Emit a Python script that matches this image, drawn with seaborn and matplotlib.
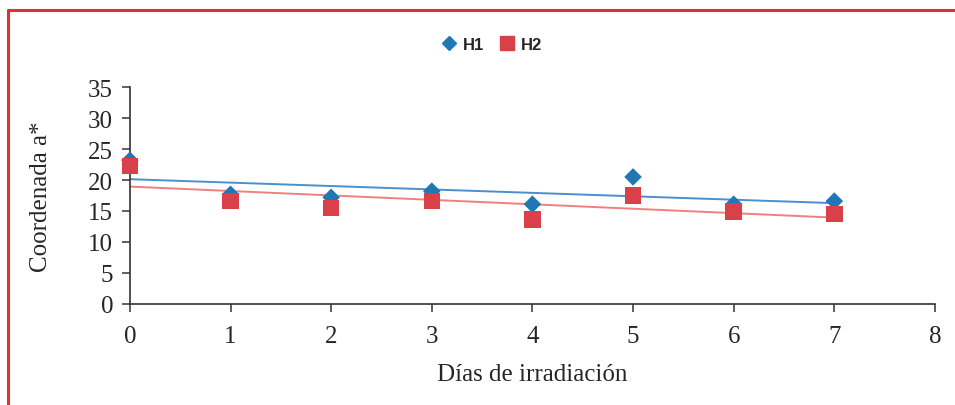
import numpy as np
import pandas as pd
import matplotlib
matplotlib.use("Agg")
import matplotlib.pyplot as plt
import seaborn as sns
from matplotlib.lines import Line2D

# data
dias = [0, 1, 2, 3, 4, 5, 6, 7]
h1 = [23.2, 17.7, 17.2, 18.2, 16.1, 20.5, 16.1, 16.6]
h2 = [22.3, 16.6, 15.5, 16.6, 13.6, 17.5, 14.9, 14.5]

sns.set_style("white")
plt.rcParams['font.family'] = ['Liberation Serif', 'DejaVu Serif']

df = pd.DataFrame({"dias": dias, "H1": h1, "H2": h2})

fig = plt.figure(figsize=(9.55, 4.06), dpi=100)
ax = fig.add_axes([0.136, 0.249, 0.843, 0.534])

blue = "#1f77b4"
red = "#d9404a"

# trend lines
sns.regplot(data=df, x="dias", y="H1", ci=None, scatter=False, ax=ax,
            line_kws={"color": "#4a8fd0", "lw": 1.4})
sns.regplot(data=df, x="dias", y="H2", ci=None, scatter=False, ax=ax,
            line_kws={"color": "#f08080", "lw": 1.4})

sns.scatterplot(data=df, x="dias", y="H1", marker="D", s=80, color=blue,
                edgecolor="none", ax=ax, zorder=3, clip_on=False)
sns.scatterplot(data=df, x="dias", y="H2", marker="s", s=140, color=red,
                edgecolor="none", ax=ax, zorder=4, clip_on=False)

ax.set_xlim(0, 8)
ax.set_ylim(0, 35)
ax.set_xticks(range(0, 9))
ax.set_yticks(range(0, 36, 5))
sns.despine(ax=ax)
for s in ["left", "bottom"]:
    ax.spines[s].set_color("#333333")
    ax.spines[s].set_linewidth(1.2)
ax.tick_params(axis="both", direction="out", length=6, width=1.1,
               color="#333333", labelsize=18, bottom=True, left=True)
ax.tick_params(axis="x", pad=9)
ax.tick_params(axis="y", pad=6)
ax.set_xlabel("Días de irradiación", fontsize=18, labelpad=12)
ax.set_ylabel("Coordenada a*", fontsize=18, labelpad=26)

handles = [Line2D([], [], marker="D", color=blue, ls="none", markersize=7),
           Line2D([], [], marker="s", color=red, ls="none", markersize=10)]
fig.legend(handles, ["H1", "H2"], loc="center", bbox_to_anchor=(0.51, 0.888),
           ncol=2, frameon=False, handletextpad=-0.2, columnspacing=0.4,
           prop={"family": "Liberation Sans", "weight": "bold", "size": 12})

# red frame on top and left, as in the cropped reference
fig.add_artist(Line2D([8/955, 1], [1 - 11/406, 1 - 11/406], color="#e03030", lw=2.2,
                      transform=fig.transFigure))
fig.add_artist(Line2D([8/955, 8/955], [0, 1 - 11/406], color="#e03030", lw=2.2,
                      transform=fig.transFigure))

fig.savefig("out.png", dpi=100)
